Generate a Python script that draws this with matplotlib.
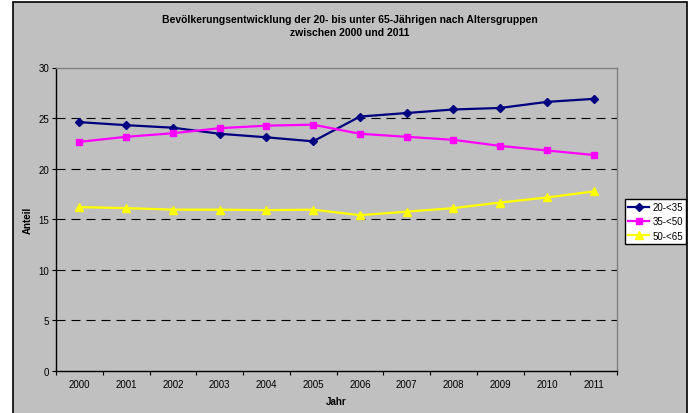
import matplotlib
matplotlib.use("Agg")
import matplotlib.pyplot as plt
from matplotlib.patches import Rectangle
import numpy as np

plt.rcParams['font.family'] = ['Liberation Sans', 'DejaVu Sans']
plt.rcParams['lines.scale_dashes'] = False

# Data -----
jahre = ['2000', '2001', '2002', '2003', '2004', '2005',
         '2006', '2007', '2008', '2009', '2010', '2011']
a_20_35 = [24.6, 24.3, 24.05, 23.45, 23.1, 22.7, 25.15, 25.5, 25.85, 26.0, 26.6, 26.9]
a_35_50 = [22.65, 23.15, 23.5, 24.0, 24.25, 24.35, 23.45, 23.15, 22.85, 22.25, 21.8, 21.35]
a_50_65 = [16.2, 16.1, 15.95, 15.95, 15.9, 15.95, 15.4, 15.75, 16.1, 16.65, 17.15, 17.75]

W, H = 689, 414
fig = plt.figure(figsize=(W / 100, H / 100), dpi=100, facecolor='white')

# outer chart frame
fig.patches.append(Rectangle((13 / W, -0.02), (687 - 13) / W, 0.02 + (H - 3) / H,
                             transform=fig.transFigure, facecolor='#C0C0C0',
                             edgecolor='black', linewidth=1.2, zorder=-10))

ax = fig.add_axes([56 / W, 42 / H, (617 - 56) / W, (372 - 68.5) / H])
ax.set_zorder(1)
ax.set_facecolor('#C0C0C0')

x = np.arange(len(jahre))
ax.plot(x, a_20_35, color='#000080', lw=1.6, marker='D', ms=3.8, label='20-<35', zorder=4)
ax.plot(x, a_35_50, color='#FF00FF', lw=1.6, marker='s', ms=4.8, label='35-<50', zorder=4)
ax.plot(x, a_50_65, color='#FFFF00', lw=1.6, marker='^', ms=5.5, label='50-<65', zorder=4)

ax.set_xlim(-0.5, len(jahre) - 0.5)
ax.set_ylim(0, 30)
ax.set_yticks(range(0, 31, 5))
for v in range(5, 30, 5):
    ax.axhline(v, color='black', lw=0.8, dashes=(6.5, 4.3), zorder=1)

ax.set_xticks(np.arange(-0.5, len(jahre)), labels=[])
ax.set_xticks(x, labels=jahre, minor=True)
ax.tick_params(axis='x', which='major', direction='out', length=3, width=0.8)
ax.tick_params(axis='x', which='minor', length=0, pad=6, labelsize=7)
ax.tick_params(axis='y', direction='out', length=3, width=0.8, pad=2, labelsize=7)

for s in ['top', 'right']:
    ax.spines[s].set_color('#808080')
for s in ['left', 'bottom']:
    ax.spines[s].set_color('black')
for s in ax.spines.values():
    s.set_linewidth(1)

ax.set_xlabel('Jahr', fontsize=7, fontweight='bold', labelpad=5)
fig.text(28 / W, 1 - 220 / H, 'Anteil', rotation=90, fontsize=7, fontweight='bold',
         ha='center', va='center')

fig.text(350 / W, 1 - 20 / H, 'Bevölkerungsentwicklung der 20- bis unter 65-Jährigen nach Altersgruppen',
         fontsize=7.5, fontweight='bold', ha='center', va='center')
fig.text(350 / W, 1 - 33 / H, 'zwischen 2000 und 2011',
         fontsize=7.5, fontweight='bold', ha='center', va='center')

leg = fig.legend(loc='upper left', bbox_to_anchor=(625 / W, 1 - 200 / H), borderaxespad=0,
                 fontsize=7, fancybox=False, edgecolor='black', facecolor='white',
                 framealpha=1, handlelength=2.2, handletextpad=0.3, labelspacing=0.45,
                 borderpad=0.3)
leg.get_frame().set_linewidth(1)
leg.set_zorder(5)

fig.savefig('out.png', dpi=100, facecolor='white')
